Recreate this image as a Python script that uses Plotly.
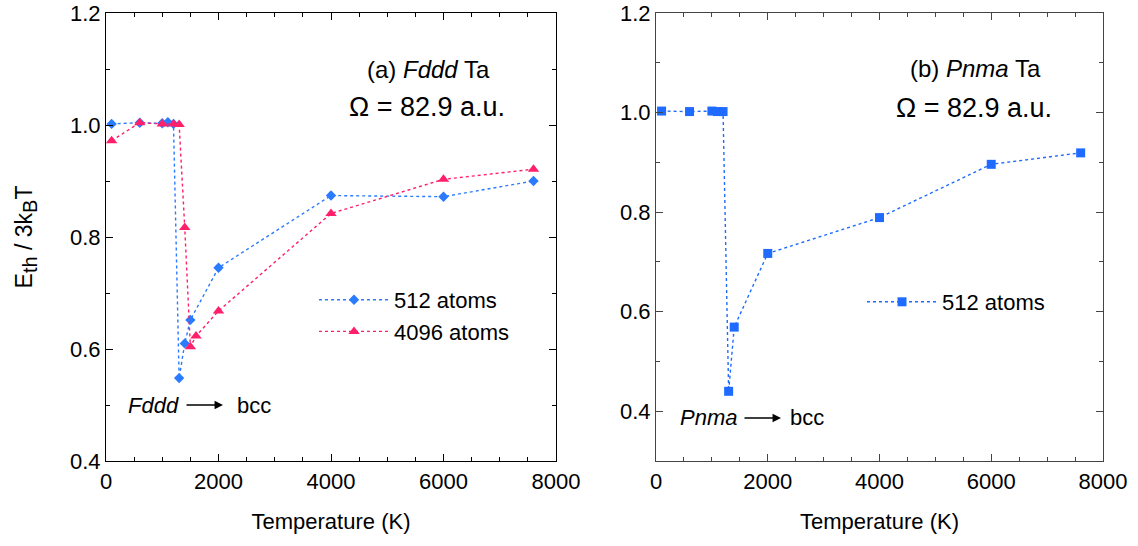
import plotly.graph_objects as go

# ---- data ----
T_fddd_512 = [100, 600, 1000, 1100, 1200, 1300, 1400, 1500, 2000, 4000, 6000, 7600]
E_fddd_512 = [1.002, 1.004, 1.003, 1.005, 1.002, 0.548, 0.610, 0.652, 0.745, 0.874, 0.872, 0.900]
T_fddd_4096 = [100, 600, 1000, 1200, 1300, 1400, 1500, 1600, 2000, 4000, 6000, 7600]
E_fddd_4096 = [0.972, 1.004, 1.002, 1.002, 1.001, 0.817, 0.604, 0.623, 0.668, 0.842, 0.903, 0.921]
T_pnma_512 = [100, 600, 1000, 1100, 1200, 1300, 1400, 2000, 4000, 6000, 7600]
E_pnma_512 = [1.003, 1.002, 1.003, 1.002, 1.002, 0.440, 0.569, 0.717, 0.789, 0.896, 0.919]
legend_names = ["512 atoms", "4096 atoms"]

W, H = 1138, 546
BLUE = "#2b7bff"
PINK = "#ff1f6b"
SQ = "#1f6bff"
FONT = "Liberation Sans, Arial, sans-serif"

def px(x):
    return x / W

def py(y):
    return 1 - y / H

fig = go.Figure()
fig.add_trace(go.Scatter(x=T_fddd_512, y=E_fddd_512, mode="lines+markers", name=legend_names[0],
                         line=dict(color=BLUE, width=1.4, dash="dot"),
                         marker=dict(symbol="diamond", size=8, color=BLUE),
                         xaxis="x", yaxis="y", legend="legend"))
fig.add_trace(go.Scatter(x=T_fddd_4096, y=E_fddd_4096, mode="lines+markers", name=legend_names[1],
                         line=dict(color=PINK, width=1.4, dash="dot"),
                         marker=dict(symbol="triangle-up", size=10, color=PINK),
                         xaxis="x", yaxis="y", legend="legend"))
fig.add_trace(go.Scatter(x=T_pnma_512, y=E_pnma_512, mode="lines+markers", name=legend_names[0],
                         line=dict(color=SQ, width=1.4, dash="dot"),
                         marker=dict(symbol="square", size=9, color=SQ),
                         xaxis="x2", yaxis="y2", legend="legend2"))

tickfont = dict(family=FONT, size=22, color="black")

def xax(domain, anchor, lc):
    return dict(domain=domain, anchor=anchor, range=[0, 8000], dtick=2000, tick0=0,
                ticks="inside", ticklen=7, tickwidth=1, tickcolor=lc,
                minor=dict(dtick=500, ticks="inside", ticklen=4, tickcolor=lc),
                showline=True, linecolor=lc, linewidth=1.2, mirror="allticks",
                showgrid=False, zeroline=False, tickfont=tickfont, automargin=False,
                title=dict(text="Temperature (K)", font=dict(family=FONT, size=22, color="black"), standoff=21))

def yax(domain, anchor, rng, lc, title=None):
    d = dict(domain=domain, anchor=anchor, range=rng, dtick=0.2, tick0=0.4, tickformat=".1f",
             ticks="inside", ticklen=7, tickwidth=1, tickcolor=lc,
             minor=dict(dtick=0.1, tick0=0.4, ticks="inside", ticklen=4, tickcolor=lc),
             showline=True, linecolor=lc, linewidth=1.2, mirror="allticks",
             showgrid=False, zeroline=False, tickfont=tickfont, automargin=False)
    if title:
        d["title"] = dict(text=title, font=dict(family=FONT, size=23, color="black"), standoff=30)
    return d

ydom = [py(461), py(13)]
ytitle = ("E<sub><span style='font-size:20px'>th</span></sub> / 3k"
          "<sub><span style='font-size:20px'>B</span></sub>T")
fig.update_layout(
    width=W, height=H, margin=dict(l=0, r=0, t=0, b=0, autoexpand=False),
    paper_bgcolor="white", plot_bgcolor="white",
    font=dict(family=FONT, color="black"),
    xaxis=xax([px(106), px(556)], "y", "black"),
    yaxis=yax(ydom, "x", [0.4, 1.2], "black", ytitle),
    xaxis2=xax([px(656), px(1103)], "y2", "#444"),
    yaxis2=yax(ydom, "x2", [0.3, 1.2], "#444"),
    legend=dict(x=px(314), y=py(279), xanchor="left", yanchor="top", bgcolor="rgba(0,0,0,0)",
                font=dict(family=FONT, size=22, color="black"), itemwidth=70, tracegroupgap=0),
    legend2=dict(x=px(862), y=py(281), xanchor="left", yanchor="top", bgcolor="rgba(0,0,0,0)",
                 font=dict(family=FONT, size=22, color="black"), itemwidth=70),
    showlegend=True,
)

ann = []
def txt(x, y, s, size=22, xanchor="center"):
    ann.append(dict(x=px(x), y=py(y), xref="paper", yref="paper", text=s, showarrow=False,
                    xanchor=xanchor, yanchor="middle", font=dict(family=FONT, size=size, color="black")))

def arrow(x0, x1, y):
    ann.append(dict(x=px(x1), y=py(y), xref="paper", yref="paper", ax=x0 - x1, ay=0, text="",
                    showarrow=True, arrowhead=2, arrowsize=1.3, arrowwidth=1.3, arrowcolor="black"))

txt(428, 69, "(a) <i>Fddd</i> Ta", 24)
txt(427, 107, "Ω = 82.9 a.u.", 27)
txt(126, 405, "<i>Fddd</i>", 22, "left")
arrow(185, 223, 405)
txt(235, 405, "bcc", 22, "left")

txt(975, 68, "(b) <i>Pnma</i> Ta", 24)
txt(974, 108, "Ω = 82.9 a.u.", 27)
txt(678, 418, "<i>Pnma</i>", 22, "left")
arrow(743, 781, 418)
txt(788, 418, "bcc", 22, "left")

fig.update_layout(annotations=ann)
fig.write_html("out.html")
